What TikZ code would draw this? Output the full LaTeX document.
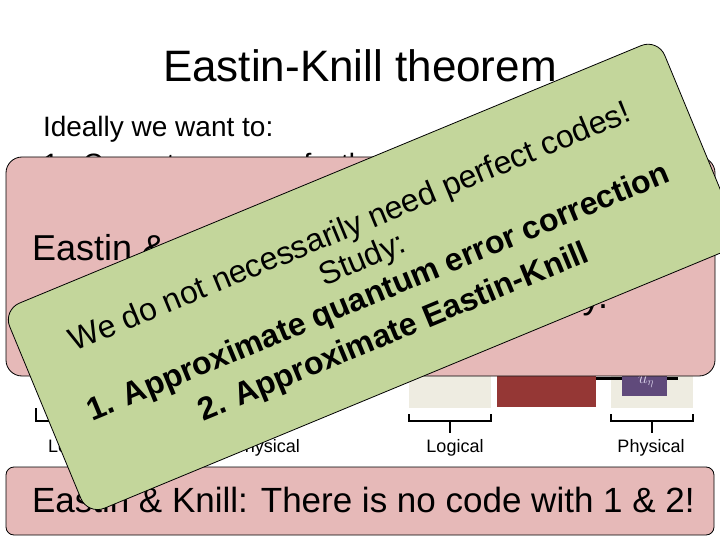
\documentclass[tikz,border=0pt]{standalone}
\usepackage{fontspec}
\setmainfont{Liberation Sans}
\definecolor{pinkbox}{HTML}{E6B9B8}
\definecolor{greenbox}{HTML}{C3D69B}
\definecolor{darkred}{HTML}{953735}
\definecolor{lightgrey}{HTML}{EEECE1}
\definecolor{purp}{HTML}{604A7B}
\definecolor{lav}{HTML}{D9D2E9}
\begin{document}
\begin{tikzpicture}[x=1pt,y=-1pt,
  txt/.style={inner sep=0pt, outer sep=0pt},
  boxline/.style={draw=black, line width=0.8pt},
  brace/.style={line width=2.6pt},
  lbl/.style={txt, font=\fontsize{18}{21}\selectfont}]
\useasboundingbox (0,0) rectangle (720,540);
\clip (0,0) rectangle (720,540);

% title and intro
\node[txt, anchor=base] (title) at (360,82) {\fontsize{44}{52}\selectfont Eastin-Knill theorem};
\node[txt, anchor=base west] (ideal) at (43,137) {\fontsize{28}{34}\selectfont Ideally we want to:};
\node[txt, anchor=base west] (item1) at (43,174) {\fontsize{28}{34}\selectfont 1.\hspace{16.5pt}Correct errors perfectly};

% diagram (right)
\fill[lightgrey] (409,340) rectangle (491,408);
\fill[darkred] (497,340) rectangle (596,407);
\fill[lightgrey] (611,340) rectangle (693,408);
\coordinate (wa) at (596,378.5);
\coordinate (wb) at (678,378.5);
\draw[line width=3pt] (wa) -- (wb);
\fill[purp] (622,340) rectangle (667,396);
\node[txt, text=lav, font=\fontsize{16}{19}\selectfont] (un) at (646,382) {$u_\eta$};

% braces
\coordinate (bl1) at (409,414); \coordinate (bl2) at (409,421);
\coordinate (bl3) at (491,421); \coordinate (bl4) at (491,414);
\coordinate (blt) at (450,421); \coordinate (blb) at (450,433);
\draw[brace] (bl1) -- (bl2) -- (bl3) -- (bl4);
\draw[brace] (blt) -- (blb);
\coordinate (bp1) at (611,414); \coordinate (bp2) at (611,421);
\coordinate (bp3) at (693,421); \coordinate (bp4) at (693,414);
\coordinate (bpt) at (652,421); \coordinate (bpb) at (652,433);
\draw[brace] (bp1) -- (bp2) -- (bp3) -- (bp4);
\draw[brace] (bpt) -- (bpb);
\node[lbl, anchor=base] (logR) at (455,452) {Logical};
\node[lbl, anchor=base] (phyR) at (651,452) {Physical};

% diagram (left)
\coordinate (cl1) at (36,408); \coordinate (cl2) at (36,421);
\coordinate (cl3) at (117,421); \coordinate (cl4) at (117,408);
\draw[brace] (cl1) -- (cl2) -- (cl3) -- (cl4);
\node[lbl, anchor=base west] (logL) at (48,452) {Logical};
\node[lbl, anchor=base east] (phyL) at (300,452) {Physical};

% upper pink box
\draw[boxline, fill=pinkbox, rounded corners=16pt] (6,157) rectangle (715,376);
\node[txt, anchor=base west] (pk1) at (32,260) {\fontsize{36}{43}\selectfont Eastin \&};
\node[txt, anchor=base east] (pk2) at (608,308) {\fontsize{36}{43}\selectfont y.};

% bottom pink box
\draw[boxline, fill=pinkbox, rounded corners=8pt] (6,467) rectangle (714,535);
\node[txt, anchor=base west] (bottom) at (32,512) {\fontsize{35}{42}\selectfont Eastin \& Knill: There is no code with 1 \& 2!};

% green rotated note
\begin{scope}[shift={(372.8,276.9)}, rotate=22.5, transform shape]
\draw[boxline, fill=greenbox, rounded corners=18pt] (-354.5,-111) rectangle (354.5,111);
\node[txt, anchor=base] (g1) at (-2,-45) {\fontsize{32}{38}\selectfont We do not necessarily need perfect codes!};
\node[txt, anchor=base] (g2) at (-3,-10) {\fontsize{32}{38}\selectfont Study:};
\node[txt, anchor=base] (g3) at (-1,26) {\fontsize{32}{38}\selectfont\bfseries 1. Approximate quantum error correction};
\node[txt, anchor=base] (g4) at (-2,68.5) {\fontsize{32}{38}\selectfont\bfseries 2. Approximate Eastin-Knill};
\end{scope}
\end{tikzpicture}
\end{document}
